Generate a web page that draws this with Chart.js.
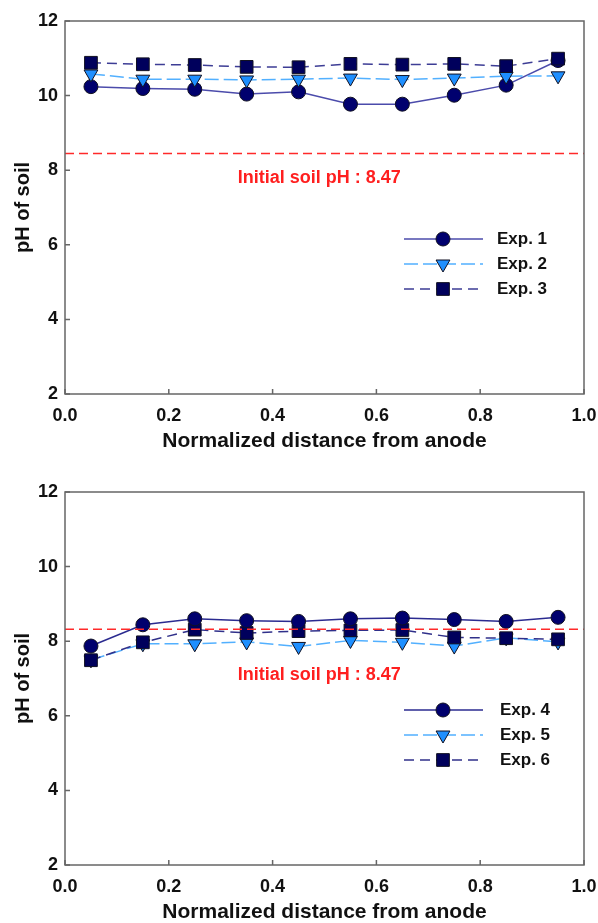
<!DOCTYPE html>
<html>
<head>
<meta charset="utf-8">
<script src="https://cdn.jsdelivr.net/npm/chart.js@4.4.0/dist/chart.umd.min.js"></script>
<style>
html, body { margin: 0; padding: 0; overflow: hidden; background: #fff; width: 598px; height: 923px; }
canvas { position: absolute; left: 0; }
#topChart { top: 0; }
#bottomChart { top: 471px; }
</style>
</head>
<body>
<canvas id="topChart" width="598" height="462"></canvas>
<canvas id="bottomChart" width="598" height="462"></canvas>
<script>
// normalized distance of each sampling section
var distance = [0.05, 0.15, 0.25, 0.35, 0.45, 0.55, 0.65, 0.75, 0.85, 0.95];

// soil pH, top panel
var exp1 = [10.24, 10.19, 10.17, 10.04, 10.10, 9.77, 9.77, 10.01, 10.28, 10.94];
var exp2 = [10.58, 10.44, 10.44, 10.42, 10.44, 10.47, 10.43, 10.47, 10.52, 10.53];
var exp3 = [10.88, 10.84, 10.82, 10.77, 10.76, 10.85, 10.83, 10.85, 10.79, 10.99];

// soil pH, bottom panel
var exp4 = [7.87, 8.44, 8.60, 8.55, 8.53, 8.60, 8.62, 8.58, 8.53, 8.64];
var exp5 = [7.50, 7.93, 7.93, 7.98, 7.86, 8.02, 7.97, 7.87, 8.09, 7.98];
var exp6 = [7.49, 7.97, 8.31, 8.22, 8.27, 8.29, 8.30, 8.10, 8.08, 8.05];

var initialPh = [8.45, 8.32];
var initialText = 'Initial soil pH : 8.47';
var topLabels = ['Exp. 1', 'Exp. 2', 'Exp. 3'];
var bottomLabels = ['Exp. 4', 'Exp. 5', 'Exp. 6'];

var FONT = "'Liberation Sans', Arial, sans-serif";

function points(ys) {
	return distance.map(function(x, i){ return {x: x, y: ys[i]}; });
}

function makeSet(label, ys, kind, lineColor, order) {
	var set = {
		label: label,
		data: points(ys),
		borderColor: lineColor,
		borderWidth: 1.5,
		pointBorderColor: '#111122',
		pointBorderWidth: 1,
		order: order
	};
	if (kind === 'circle') {
		set.pointStyle = 'circle'; set.pointRadius = 7;
		set.pointBackgroundColor = '#00006e'; set.borderDash = [];
	} else if (kind === 'triangle') {
		set.pointStyle = 'triangle'; set.pointRadius = 8; set.pointRotation = 180;
		set.pointBackgroundColor = '#1e8fff'; set.borderDash = [14, 5];
	} else {
		set.pointStyle = 'rect'; set.pointRadius = 9;
		set.pointBackgroundColor = '#00005c'; set.borderDash = [10, 6];
	}
	set.pointHoverRadius = set.pointRadius;
	return set;
}

function drawMarker(ctx, ds, x, y) {
	var r = ds.pointRadius;
	ctx.save();
	ctx.setLineDash([]);
	ctx.fillStyle = ds.pointBackgroundColor;
	ctx.strokeStyle = ds.pointBorderColor;
	ctx.lineWidth = ds.pointBorderWidth;
	ctx.beginPath();
	if (ds.pointStyle === 'circle') {
		ctx.arc(x, y, r, 0, Math.PI * 2);
	} else if (ds.pointStyle === 'triangle') {
		ctx.moveTo(x, y + r);
		ctx.lineTo(x - r * Math.sin(Math.PI / 3), y - r / 2);
		ctx.lineTo(x + r * Math.sin(Math.PI / 3), y - r / 2);
		ctx.closePath();
	} else {
		var s = r * Math.SQRT1_2;
		ctx.rect(x - s, y - s, 2 * s, 2 * s);
	}
	ctx.fill();
	ctx.stroke();
	ctx.restore();
}

// frame, inward ticks, note text and legend
var decorations = {
	id: 'decorations',
	afterDraw: function(chart) {
		var ctx = chart.ctx;
		var a = chart.chartArea;
		var xs = chart.scales.x, ys = chart.scales.y;
		var o = chart.options.plugins.decorations;

		ctx.save();
		ctx.strokeStyle = '#666';
		ctx.lineWidth = 1.5;
		ctx.strokeRect(a.left, a.top, a.right - a.left, a.bottom - a.top);
		ctx.beginPath();
		xs.ticks.forEach(function(t){
			var px = xs.getPixelForValue(t.value);
			ctx.moveTo(px, a.bottom); ctx.lineTo(px, a.bottom - 5);
		});
		ys.ticks.forEach(function(t){
			var py = ys.getPixelForValue(t.value);
			ctx.moveTo(a.left, py); ctx.lineTo(a.left + 5, py);
		});
		ctx.stroke();

		ctx.fillStyle = '#ff1f1f';
		ctx.font = 'bold 18px ' + FONT;
		ctx.textAlign = 'center';
		ctx.textBaseline = 'middle';
		ctx.fillText(initialText, xs.getPixelForValue(o.textX), ys.getPixelForValue(o.textY));

		var rows = [218, 243, 268];
		var sets = chart.data.datasets.filter(function(d){ return d.pointStyle; });
		sets.sort(function(p, q){ return p.legendIndex - q.legendIndex; });
		sets.forEach(function(ds, i){
			var y = a.top + rows[i];
			ctx.strokeStyle = ds.borderColor;
			ctx.lineWidth = 1.5;
			ctx.setLineDash(ds.borderDash);
			ctx.beginPath();
			ctx.moveTo(404, y); ctx.lineTo(483, y);
			ctx.stroke();
			drawMarker(ctx, ds, 443, y);
			ctx.fillStyle = '#111';
			ctx.font = 'bold 17px ' + FONT;
			ctx.textAlign = 'left';
			ctx.fillText(ds.label, o.legendX, y);
		});
		ctx.restore();
	}
};

function makeChart(id, sets, ph, textY, legendX) {
	sets.push({
		label: 'initial',
		data: [{x: 0, y: ph}, {x: 1, y: ph}],
		borderColor: '#ff2a2a',
		borderWidth: 1.5,
		borderDash: [9, 5],
		pointRadius: 0,
		order: 0
	});
	var ctx = document.getElementById(id).getContext('2d');
	return new Chart(ctx, {
		type: 'line',
		data: { datasets: sets },
		options: {
			responsive: false,
			animation: false,
			devicePixelRatio: 1,
			layout: { padding: { top: 21, right: 14, left: 0, bottom: 0 } },
			plugins: {
				legend: { display: false },
				tooltip: { enabled: false },
				decorations: { textX: 0.49, textY: textY, legendX: legendX }
			},
			scales: {
				x: {
					type: 'linear', min: 0, max: 1,
					grid: { display: false, drawTicks: false },
					border: { display: false },
					afterFit: function(s){ s.height = 68; s.paddingRight = 0; s.paddingLeft = 0; },
					ticks: {
						stepSize: 0.2, maxRotation: 0, autoSkip: false, padding: 11,
						color: '#111', font: { family: FONT, size: 18, weight: 'bold' },
						callback: function(v){ return Number(v).toFixed(1); }
					},
					title: {
						display: true, text: 'Normalized distance from anode', color: '#111',
						font: { family: FONT, size: 21, weight: 'bold' },
						padding: { top: 0, bottom: 8 }
					}
				},
				y: {
					min: 2, max: 12,
					grid: { display: false, drawTicks: false },
					border: { display: false },
					afterFit: function(s){ s.width = 65; },
					ticks: {
						stepSize: 2, padding: 7,
						color: '#111', font: { family: FONT, size: 18, weight: 'bold' }
					},
					title: {
						display: true, text: 'pH of soil', color: '#111',
						font: { family: FONT, size: 20, weight: 'bold' },
						padding: { top: 11, bottom: 0 }
					}
				}
			}
		},
		plugins: [decorations]
	});
}

var topSets = [
	makeSet(topLabels[0], exp1, 'circle', '#4b4bab', 3),
	makeSet(topLabels[1], exp2, 'triangle', '#52b0ff', 2),
	makeSet(topLabels[2], exp3, 'rect', '#3d3d95', 1)
];
var bottomSets = [
	makeSet(bottomLabels[0], exp4, 'circle', '#2b2b90', 1),
	makeSet(bottomLabels[1], exp5, 'triangle', '#52b0ff', 3),
	makeSet(bottomLabels[2], exp6, 'rect', '#30308a', 2)
];
[topSets, bottomSets].forEach(function(g){ g.forEach(function(d, i){ d.legendIndex = i; }); });

makeChart('topChart', topSets, initialPh[0], 7.8, 497);
makeChart('bottomChart', bottomSets, initialPh[1], 7.08, 500);
</script>
</body>
</html>
